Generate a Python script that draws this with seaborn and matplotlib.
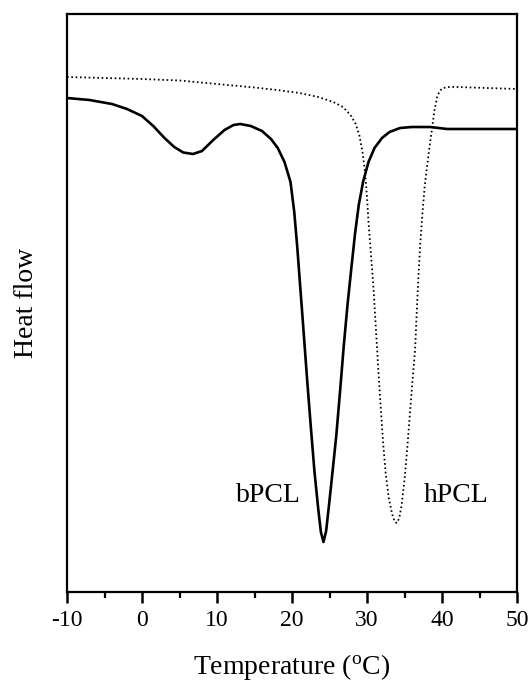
import matplotlib
matplotlib.use("Agg")
import matplotlib.pyplot as plt
import seaborn as sns
import pandas as pd
import numpy as np

# bPCL (solid) trace: temperature (°C) and heat flow (arbitrary units)
bpcl_temp = [-10.0, -7.0, -4.0, -2.0, 0.0, 1.5, 3.0, 4.3, 5.5, 6.8, 8.0, 9.5, 11.0,
             12.2, 13.1, 14.5, 16.0, 17.2, 18.1, 19.0, 19.8, 20.3, 20.7,
             21.1, 21.5, 22.0, 22.5, 23.0, 23.5, 23.85, 24.2, 24.55, 24.95,
             25.4, 25.9, 26.4, 26.9, 27.4, 27.9, 28.4, 28.9, 29.5, 30.2,
             31.0, 32.0, 33.0, 34.4, 36.0, 38.4, 40.7, 45.0, 50.0]
bpcl_flow = [49.4, 49.2, 48.8, 48.3, 47.6, 46.6, 45.4, 44.5, 43.95, 43.8, 44.1, 45.2, 46.2,
             46.7, 46.8, 46.6, 46.1, 45.3, 44.4, 43.0, 41.0, 38.0, 34.5,
             30.5, 26.5, 21.4, 16.6, 12.0, 8.3, 6.0, 5.0, 6.1, 8.8,
             12.0, 15.6, 20.0, 24.6, 28.7, 32.3, 35.8, 38.7, 41.1, 43.0,
             44.4, 45.4, 46.0, 46.4, 46.5, 46.5, 46.3, 46.3, 46.3]

# hPCL (dotted) trace
hpcl_temp = [-10.0, -5.0, 0.0, 5.0, 10.0, 15.0, 18.0, 21.0, 23.5, 25.5, 26.8,
             27.8, 28.5, 29.0, 29.4, 29.75, 30.0, 30.2, 30.5, 30.82, 31.15,
             31.49, 31.8, 32.15, 32.5, 32.9, 33.35, 33.7, 34.0, 34.3, 34.6,
             35.0, 35.35, 35.7, 36.05, 36.41, 36.81, 37.1, 37.4, 37.7, 38.0,
             38.35, 38.7, 39.0, 39.35, 39.7, 40.1, 41.0, 42.0, 46.0, 50.0]
hpcl_flow = [51.5, 51.4, 51.3, 51.15, 50.8, 50.45, 50.2, 49.9, 49.5, 49.0, 48.5,
             47.7, 46.8, 45.6, 44.0, 41.9, 39.5, 37.0, 34.0, 30.9, 26.8,
             22.5, 18.8, 14.9, 11.8, 9.4, 7.8, 7.0, 6.9, 7.4, 8.6,
             11.2, 14.2, 17.6, 21.0, 24.2, 30.9, 34.8, 38.0, 40.6, 42.5,
             44.6, 46.5, 48.2, 49.5, 50.1, 50.4, 50.5, 50.5, 50.4, 50.3]

x_ticks = [-10, 0, 10, 20, 30, 40, 50]
labels = ["bPCL", "hPCL"]
label_pos_temp = [16.8, 41.9]
label_pos_flow = [9.0, 9.0]

df_b = pd.DataFrame({"Temperature": bpcl_temp, "Heat flow": bpcl_flow})
df_h = pd.DataFrame({"Temperature": hpcl_temp, "Heat flow": hpcl_flow})

sns.set_theme(style="white")
plt.rcParams["font.family"] = ["Liberation Serif", "DejaVu Serif"]
plt.rcParams["mathtext.fontset"] = "custom"
plt.rcParams["mathtext.rm"] = "Liberation Serif"
plt.rcParams["text.color"] = "black"
plt.rcParams["axes.labelcolor"] = "black"
plt.rcParams["xtick.color"] = "black"

fig = plt.figure(figsize=(5.32, 6.87), dpi=100)
ax = fig.add_axes([67 / 532, 1 - 592 / 687, (517 - 67) / 532, (592 - 14) / 687])

sns.lineplot(data=df_h, x="Temperature", y="Heat flow", ax=ax, sort=False,
             color="black", linewidth=1.3, linestyle=(0, (0.9, 1.5)))
sns.lineplot(data=df_b, x="Temperature", y="Heat flow", ax=ax, sort=False,
             color="black", linewidth=1.9)

ax.set_xlim(-10, 50)
ax.set_ylim(0, 57.8)
ax.set_xticks(x_ticks)
ax.set_xticklabels([str(t) for t in x_ticks])
ax.set_xticks(np.arange(-5, 50, 10), minor=True)
ax.set_yticks([])

ax.tick_params(axis="x", which="major", direction="out", length=8, width=1.8,
               bottom=True, labelsize=17, pad=5, colors="black")
ax.tick_params(axis="x", which="minor", direction="out", length=4.5, width=1.6,
               bottom=True)

for s in ax.spines.values():
    s.set_color("black")
    s.set_linewidth(1.6)
    s.set_visible(True)

ax.set_xlabel("Temperature ($\\mathregular{^{o}}$C)", fontsize=20, labelpad=15)
ax.set_ylabel("Heat flow", fontsize=20, labelpad=20)

for lab, tx, ty in zip(labels, label_pos_temp, label_pos_flow):
    ax.text(tx, ty, lab, fontsize=20, ha="center", va="baseline", color="black")

fig.savefig("out.png", dpi=100)
